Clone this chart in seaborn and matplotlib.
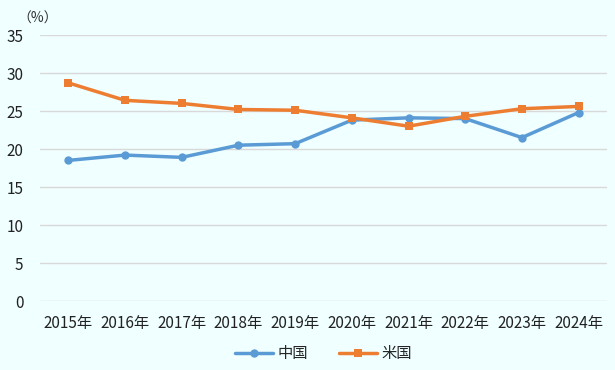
import matplotlib
matplotlib.use("Agg")
import matplotlib.pyplot as plt
import seaborn as sns
import pandas as pd

years = ["2015年", "2016年", "2017年", "2018年", "2019年", "2020年", "2021年", "2022年", "2023年", "2024年"]
china = [18.5, 19.2, 18.9, 20.5, 20.7, 23.8, 24.1, 24.0, 21.5, 24.8]
usa = [28.7, 26.4, 26.0, 25.2, 25.1, 24.1, 23.0, 24.3, 25.3, 25.6]
series_names = ["中国", "米国"]
yticks = [0, 5, 10, 15, 20, 25, 30, 35]

sns.set_theme(style="white")
plt.rcParams['font.family'] = ['Noto Sans CJK JP', 'DejaVu Sans']

bg = "#F0FFFF"
df = pd.DataFrame({
    "year": years * 2,
    "value": china + usa,
    "series": [series_names[0]] * len(years) + [series_names[1]] * len(years),
})

fig = plt.figure(figsize=(6.15, 3.7), dpi=100, facecolor=bg)
ax = fig.add_axes([40/615, 1 - 301/370, 567/615, 266/370])
ax.set_facecolor(bg)

palette = {series_names[0]: "#5B9BD5", series_names[1]: "#ED7D31"}
sns.lineplot(data=df, x="year", y="value", hue="series", style="series",
             markers={series_names[0]: "o", series_names[1]: "s"}, dashes=False,
             palette=palette, linewidth=2.5, markersize=6, markeredgewidth=0,
             sort=False, ax=ax)

ax.set_xlim(-0.5, len(years) - 0.5)
ax.set_ylim(0, 35)
ax.set_yticks(yticks)
ax.set_yticklabels([str(t) for t in yticks])
ax.grid(axis="y", color="#D9D9D9", linewidth=1)
ax.set_axisbelow(True)
for s in ax.spines.values():
    s.set_visible(False)
ax.tick_params(axis="both", length=0, labelsize=11, colors="#222222")
ax.tick_params(axis="x", pad=10)
ax.tick_params(axis="y", pad=12)
ax.set_xlabel("")
ax.set_ylabel("")
ax.text(-0.04, 1.035, "（%）", transform=ax.transAxes, fontsize=10, color="#333333",
        ha="left", va="bottom")

handles, labels = ax.get_legend_handles_labels()
ax.legend(handles, labels, loc="upper center", bbox_to_anchor=(0.5, -0.115),
          ncol=2, frameon=False, fontsize=11, handlelength=2.5, columnspacing=2,
          handletextpad=0.3)

fig.savefig("out.png", dpi=100, facecolor=bg)
